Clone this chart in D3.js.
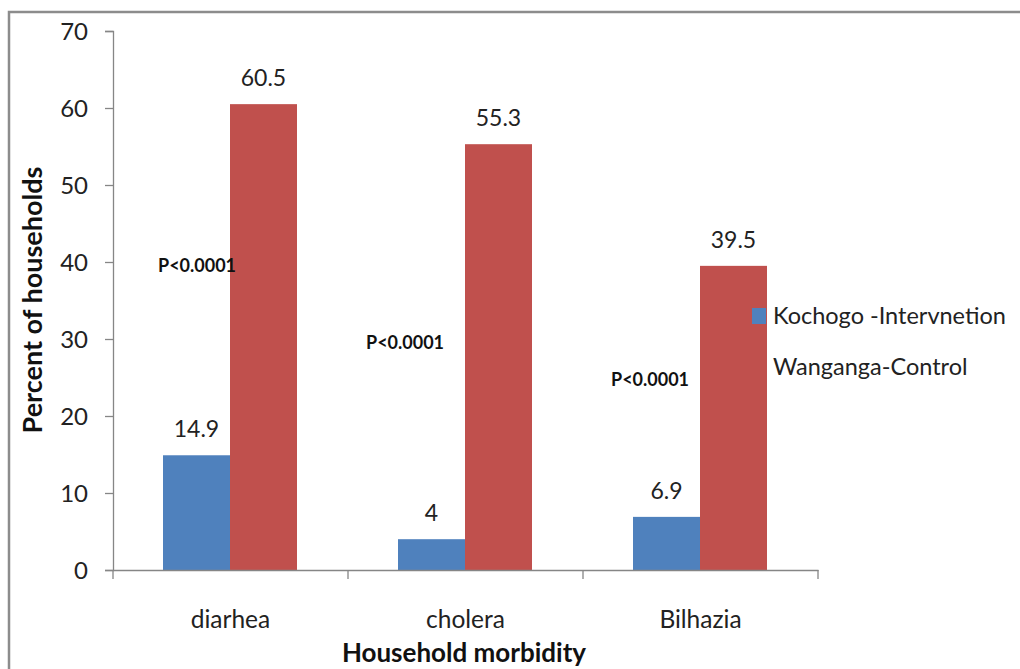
<!DOCTYPE html>
<html>
<head>
<meta charset="utf-8">
<script src="https://cdn.jsdelivr.net/npm/d3@7"></script>
<style>
  body { margin: 0; background: #fff; }
  text { font-family: Lato, "Open Sans", sans-serif; }
</style>
</head>
<body>
<svg id="chart" width="1020" height="669"></svg>
<script>
var categories = ["diarhea", "cholera", "Bilhazia"];
var seriesNames = ["Kochogo -Intervnetion", "Wanganga-Control"];
var kochogo = [14.9, 4, 6.9];
var wanganga = [60.5, 55.3, 39.5];
var yTicks = [0, 10, 20, 30, 40, 50, 60, 70];
var pLabels = ["P<0.0001", "P<0.0001", "P<0.0001"];
var pLevels = [39.5, 29.5, 24.7];   // where the p-value note sits, in axis units

var svg = d3.select("#chart"),
    margin = {top: 31, right: 202, bottom: 99, left: 113},
    width = +svg.attr("width") - margin.left - margin.right,
    height = +svg.attr("height") - margin.top - margin.bottom,
    g = svg.append("g").attr("transform", "translate(" + margin.left + "," + margin.top + ")");

var colors = ["#4F81BD", "#C0504D"];

// outer frame (only top and left edges show in the original)
svg.append("path")
    .attr("d", "M9,669V12H1020")
    .attr("fill", "none")
    .attr("stroke", "#8c8c8c")
    .attr("stroke-width", 2.5);

var x0 = d3.scaleBand()
    .domain(categories)
    .range([0, width])
    .paddingInner(0)
    .paddingOuter(0);

var x1 = d3.scaleBand()
    .domain([0, 1])
    .range([50, x0.bandwidth() - 51]);

var y = d3.scaleLinear()
    .domain([0, 70])
    .range([height, 0]);

var data = categories.map(function(c, i) {
  return {cat: c, vals: [kochogo[i], wanganga[i]]};
});

// y axis
var yAxis = d3.axisLeft(y).tickValues(yTicks).tickSize(8).tickPadding(17);
g.append("g")
    .call(yAxis)
    .call(function(a) {
      a.select(".domain").attr("stroke", "#868686").attr("stroke-width", 1.3);
      a.selectAll(".tick line").attr("stroke", "#868686").attr("stroke-width", 1.3);
      a.selectAll(".tick text").attr("fill", "#222").attr("font-size", 24)
        .attr("font-family", "Lato, sans-serif").attr("dy", "0.35em");
    });

// bars
var groups = g.selectAll(".grp")
    .data(data)
  .enter().append("g")
    .attr("transform", function(d) { return "translate(" + x0(d.cat) + ",0)"; });

groups.selectAll("rect")
    .data(function(d) { return d.vals; })
  .enter().append("rect")
    .attr("x", function(d, i) { return x1(i); })
    .attr("y", function(d) { return y(d); })
    .attr("width", x1.bandwidth())
    .attr("height", function(d) { return height - y(d); })
    .attr("fill", function(d, i) { return colors[i]; });

groups.selectAll(".val")
    .data(function(d) { return d.vals; })
  .enter().append("text")
    .attr("x", function(d, i) { return x1(i) + x1.bandwidth() / 2; })
    .attr("y", function(d) { return y(d) - 18; })
    .attr("text-anchor", "middle")
    .attr("font-size", 23)
    .attr("fill", "#222")
    .text(function(d) { return d; });

// x axis
var xAxis = d3.axisBottom(x0).tickValues([]).tickSizeOuter(0);
var xg = g.append("g")
    .attr("transform", "translate(0," + height + ")")
    .call(xAxis);
xg.select(".domain").attr("stroke", "#868686").attr("stroke-width", 1.3);
xg.selectAll(".sep")
    .data(d3.range(categories.length + 1))
  .enter().append("line")
    .attr("x1", function(i) { return i * x0.bandwidth(); })
    .attr("x2", function(i) { return i * x0.bandwidth(); })
    .attr("y1", 0).attr("y2", 9)
    .attr("stroke", "#868686").attr("stroke-width", 1.3);
xg.selectAll(".cat")
    .data(categories)
  .enter().append("text")
    .attr("x", function(d) { return x0(d) + x0.bandwidth() / 2; })
    .attr("y", 58)
    .attr("text-anchor", "middle")
    .attr("font-size", 24.5)
    .attr("fill", "#222")
    .text(function(d) { return d; });

// p-value notes
var pOffset = [45, 18, 28];
g.selectAll(".pnote")
    .data(pLabels)
  .enter().append("text")
    .attr("x", function(d, i) { return x0(categories[i]) + pOffset[i]; })
    .attr("y", function(d, i) { return y(pLevels[i]); })
    .attr("dy", "0.35em")
    .attr("font-size", 18)
    .attr("font-weight", "bold")
    .attr("fill", "#111")
    .text(function(d) { return d; });

// axis titles
svg.append("text")
    .attr("transform", "translate(42,300) rotate(-90)")
    .attr("text-anchor", "middle")
    .attr("font-size", 27)
    .attr("font-weight", "bold")
    .attr("fill", "#111")
    .text("Percent of households");

svg.append("text")
    .attr("x", 464)
    .attr("y", 662)
    .attr("text-anchor", "middle")
    .attr("font-size", 26)
    .attr("font-weight", "bold")
    .attr("fill", "#111")
    .text("Household morbidity");

// legend
var legend = svg.append("g").attr("transform", "translate(752,308)");
var li = legend.selectAll(".li")
    .data(seriesNames)
  .enter().append("g")
    .attr("transform", function(d, i) { return "translate(0," + (i * 51) + ")"; });
li.append("rect")
    .attr("width", 14).attr("height", 16)
    .attr("fill", function(d, i) { return colors[i]; });
li.append("text")
    .attr("x", 21).attr("y", 8)
    .attr("dy", "0.35em")
    .attr("font-size", 23.5)
    .attr("fill", "#222")
    .text(function(d) { return d; });
</script>
</body>
</html>
